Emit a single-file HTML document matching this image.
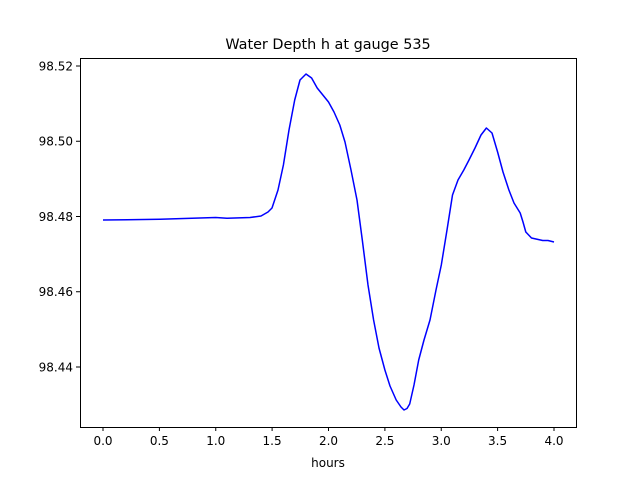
<!DOCTYPE html>
<html><head><style>body{margin:0;background:#fff}</style></head><body>
<svg width="640" height="480" xmlns="http://www.w3.org/2000/svg" font-family="DejaVu Sans, Liberation Sans, sans-serif">
<rect width="640" height="480" fill="#fff"/>
<text x="328" y="49" font-size="14.4" text-anchor="middle">Water Depth h at gauge 535</text>
<polyline fill="none" stroke="#0000ff" stroke-width="1.5" stroke-linejoin="round" points="103,220 160,219.3 215.75,217.5 227,218.2 250,217.5 261,216 268,212 272,208 278,190 283.4,165 289,130 294.7,100 300,80 306,74 311.6,78 317.2,88 328.5,102 334,112 339.8,125 345,142 351,170 357,200 362.3,240 368,285 373.6,320 379,348 384.9,370 390,386 396.2,400 401,407 404,410 407,408.5 409.7,404 414,385 418.7,360 424,340 430,320 436,290 441.3,265 447,230 452.5,195 458,180 463.8,170 469,160 475,148 481,135 486.4,128 492,133 497.6,152 503,172 508.9,190 514,203 520.2,213 523,222 525.8,232 531.5,238 542.7,240.5 548,240.5 554,242"/>
<rect x="80.5" y="58.5" width="496" height="369" fill="none" stroke="#000" stroke-width="1"/>
<g stroke="#000" stroke-width="1">
<line x1="103" y1="427" x2="103" y2="431"/><line x1="159.4" y1="427" x2="159.4" y2="431"/><line x1="215.75" y1="427" x2="215.75" y2="431"/><line x1="272.1" y1="427" x2="272.1" y2="431"/><line x1="328.5" y1="427" x2="328.5" y2="431"/><line x1="384.9" y1="427" x2="384.9" y2="431"/><line x1="441.25" y1="427" x2="441.25" y2="431"/><line x1="497.6" y1="427" x2="497.6" y2="431"/><line x1="554" y1="427" x2="554" y2="431"/>
<line x1="76" y1="66" x2="80" y2="66"/><line x1="76" y1="141.25" x2="80" y2="141.25"/><line x1="76" y1="216.5" x2="80" y2="216.5"/><line x1="76" y1="291.75" x2="80" y2="291.75"/><line x1="76" y1="367" x2="80" y2="367"/>
</g>
<g font-size="12" text-anchor="middle">
<text x="103" y="445">0.0</text><text x="159.4" y="445">0.5</text><text x="215.75" y="445">1.0</text><text x="272.1" y="445">1.5</text><text x="328.5" y="445">2.0</text><text x="384.9" y="445">2.5</text><text x="441.25" y="445">3.0</text><text x="497.6" y="445">3.5</text><text x="554" y="445">4.0</text>
<text x="328" y="467">hours</text>
</g>
<g font-size="12" text-anchor="end">
<text x="73" y="70.5">98.52</text><text x="73" y="145.7">98.50</text><text x="73" y="221">98.48</text><text x="73" y="296.2">98.46</text><text x="73" y="371.5">98.44</text>
</g>
</svg>
</body></html>
